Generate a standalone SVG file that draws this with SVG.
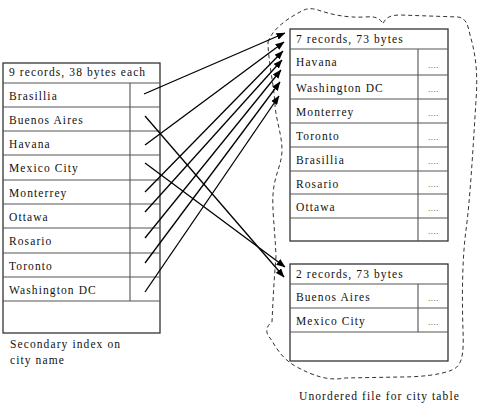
<svg xmlns="http://www.w3.org/2000/svg" width="485" height="410" viewBox="0 0 485 410">
<defs>
<marker id="ah" markerWidth="9" markerHeight="7" refX="8.5" refY="3.5" orient="auto" markerUnits="userSpaceOnUse">
<path d="M0,0 L9,3.5 L0,7 z" fill="#000"/>
</marker>
<style>
.t{font-family:"Liberation Serif","Times New Roman",serif;font-size:11.5px;letter-spacing:1.1px;fill:#111}
.d{font-family:"Liberation Serif",serif;font-size:9px;letter-spacing:0.5px;fill:#333}
.box{fill:#fff;stroke:#333;stroke-width:1.3}
.ln{stroke:#555;stroke-width:1.1;fill:none}
.ar{stroke:#000;stroke-width:1.3;fill:none;marker-end:url(#ah)}
.cloud{fill:none;stroke:#333;stroke-width:1;stroke-dasharray:4 3}
</style>
</defs>
<rect width="485" height="410" fill="#fff"/>

<g id="cloud">
<path class="cloud" d="M268,42 C272,30 285,20 300,12 C306,8 312,8 318,10 C330,14 345,18 365,17 C375,16 380,18 383,24 C385,18 390,15 400,15 L458,17 C466,18 468,25 470,35 C476,55 478,75 476,100 C473,150 470,200 466,230 C462,260 462,300 463,330 C464,355 462,366 452,370 C440,375 420,377 400,377 L345,378 C330,381 315,377 295,366 C280,357 275,345 270,338 C265,333 266,326 272,322 C273,300 274,280 276,257 C275,230 272,210 273,195 C274,175 282,165 282,150 C282,135 276,120 275,105 C274,85 268,60 268,42 Z"/>
</g>

<g id="index-table">
<rect class="box" x="3" y="63" width="157" height="270"/>
<path class="ln" d="M3,83H160 M3,107H160 M3,131H160 M3,155H160 M3,180H160 M3,204H160 M3,228H160 M3,253H160 M3,277H160 M3,301H160 M130,83V301"/>
<text class="t" x="9" y="76">9 records, 38 bytes each</text>
<text class="t" x="9" y="100">Brasillia</text>
<text class="t" x="9" y="124">Buenos Aires</text>
<text class="t" x="9" y="148">Havana</text>
<text class="t" x="9" y="172">Mexico City</text>
<text class="t" x="9" y="197">Monterrey</text>
<text class="t" x="9" y="221">Ottawa</text>
<text class="t" x="9" y="245">Rosario</text>
<text class="t" x="9" y="270">Toronto</text>
<text class="t" x="9" y="294">Washington DC</text>
</g>
<g id="index-caption">
<text class="t" x="10" y="348">Secondary index on</text>
<text class="t" x="10" y="364">city name</text>
</g>

<g id="block1">
<rect class="box" x="290" y="29" width="158" height="212"/>
<path class="ln" d="M290,49H448 M290,75H448 M290,99H448 M290,123H448 M290,147H448 M290,171H448 M290,194H448 M290,218H448 M418,49V241"/>
<text class="t" x="296" y="43">7 records, 73 bytes</text>
<text class="t" x="296" y="66">Havana</text>
<text class="t" x="296" y="92">Washington DC</text>
<text class="t" x="296" y="116">Monterrey</text>
<text class="t" x="296" y="140">Toronto</text>
<text class="t" x="296" y="164">Brasillia</text>
<text class="t" x="296" y="188">Rosario</text>
<text class="t" x="296" y="211">Ottawa</text>
<text class="d" x="428" y="68">....</text>
<text class="d" x="428" y="92">....</text>
<text class="d" x="428" y="116">....</text>
<text class="d" x="428" y="140">....</text>
<text class="d" x="428" y="164">....</text>
<text class="d" x="428" y="187">....</text>
<text class="d" x="428" y="211">....</text>
<text class="d" x="428" y="234">....</text>
</g>

<g id="block2">
<rect class="box" x="290" y="264" width="158" height="97"/>
<path class="ln" d="M290,284H448 M290,308H448 M290,332H448 M418,284V332"/>
<text class="t" x="296" y="278">2 records, 73 bytes</text>
<text class="t" x="296" y="301">Buenos Aires</text>
<text class="t" x="296" y="325">Mexico City</text>
<text class="d" x="428" y="301">....</text>
<text class="d" x="428" y="325">....</text>
</g>
<g id="file-caption">
<text class="t" x="299" y="400">Unordered file for city table</text>
</g>

<g id="connectors">
<path class="ar" d="M144,94 L285,33"/>
<path class="ar" d="M145,145 L284,42"/>
<path class="ar" d="M145,192 L283,51"/>
<path class="ar" d="M145,212 L282,60"/>
<path class="ar" d="M145,238 L281,70"/>
<path class="ar" d="M145,263 L280,82"/>
<path class="ar" d="M145,292 L279,96"/>
<path class="ar" d="M145,116 L284,277"/>
<path class="ar" d="M145,163 L285,267"/>
</g>
</svg>
